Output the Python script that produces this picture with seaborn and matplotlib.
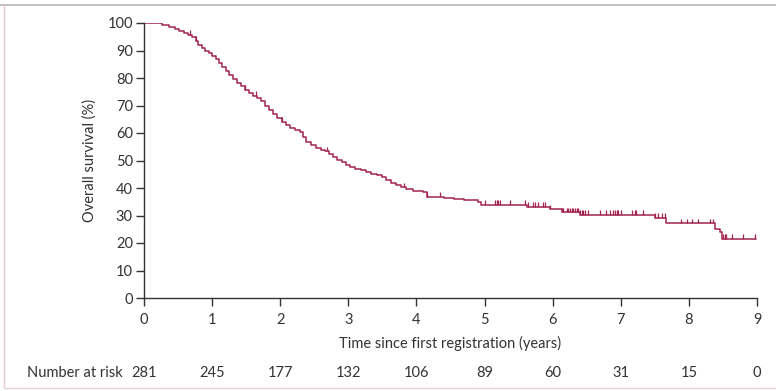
import numpy as np
import pandas as pd
import matplotlib
matplotlib.use("Agg")
import matplotlib.pyplot as plt
from matplotlib.lines import Line2D
import seaborn as sns

# Kaplan-Meier step points (years, % surviving)
step_times = [0.00, 0.26, 0.37, 0.45, 0.52, 0.58, 0.64, 0.70, 0.76, 0.80,
              0.85, 0.90, 0.95, 1.00, 1.05, 1.10, 1.15, 1.20, 1.25, 1.30,
              1.36, 1.42, 1.48, 1.54, 1.60, 1.66, 1.72, 1.78, 1.84, 1.90,
              1.96, 2.02, 2.08, 2.15, 2.22, 2.29, 2.34, 2.38, 2.45, 2.52,
              2.60, 2.66, 2.72, 2.78, 2.84, 2.90, 2.96, 3.02, 3.10, 3.18,
              3.26, 3.34, 3.42, 3.50, 3.56, 3.62, 3.70, 3.78, 3.84, 3.95,
              4.10, 4.15, 4.40, 4.55, 4.70, 4.90, 4.95, 5.62, 5.96, 6.13,
              6.40, 7.50, 7.67, 8.38, 8.46, 8.48, 8.99]
step_surv = [100.0, 99.3, 98.6, 97.9, 97.1, 96.4, 95.7, 95.0, 93.6, 92.1,
             91.0, 90.0, 89.0, 88.0, 86.8, 85.4, 84.0, 82.5, 81.0, 79.5,
             78.2, 77.0, 75.7, 74.5, 73.6, 72.8, 71.5, 70.0, 68.5, 67.0,
             65.4, 64.0, 62.9, 62.0, 61.2, 60.3, 58.5, 56.9, 55.8, 54.6,
             54.0, 53.3, 52.3, 51.3, 50.3, 49.4, 48.4, 47.7, 47.0, 46.4,
             45.7, 45.2, 44.7, 44.0, 43.0, 42.0, 41.2, 40.2, 39.6, 39.0,
             38.6, 36.8, 36.5, 36.0, 35.6, 35.0, 34.0, 33.2, 32.2, 31.2,
             30.2, 29.2, 27.2, 25.2, 24.0, 21.5, 21.5]

# censored observations (years)
censor_times = [0.68, 0.77, 1.48, 1.65, 2.02, 2.68, 3.81, 4.15, 4.35,
                5.00, 5.16, 5.18, 5.20, 5.22, 5.37, 5.60, 5.64, 5.71, 5.74,
                5.79, 5.86, 5.89, 5.96, 6.13, 6.15, 6.21, 6.23, 6.25, 6.28,
                6.30, 6.33, 6.35, 6.37, 6.40, 6.43, 6.45, 6.48, 6.52, 6.70,
                6.79, 6.84, 6.89, 6.92, 6.94, 6.96, 7.01, 7.16, 7.21, 7.23,
                7.33, 7.50, 7.55, 7.60, 7.65, 7.89, 7.97, 8.04, 8.13, 8.31,
                8.36, 8.50, 8.53, 8.55, 8.63, 8.80, 8.97]

risk_years = [0, 1, 2, 3, 4, 5, 6, 7, 8, 9]
number_at_risk = [281, 245, 177, 132, 106, 89, 60, 31, 15, 0]

km = pd.DataFrame({"time": step_times, "survival": step_surv})
# survival level at each censor time, looked up on the step function
idx = np.searchsorted(step_times, censor_times, side="right") - 1
censor_surv = np.array(step_surv)[idx]

line_color = "#a3234c"

sns.set_theme(style="ticks")
plt.rcParams["font.family"] = ["Lato", "DejaVu Sans"]

fig = plt.figure(figsize=(7.76, 3.91), dpi=100)
ax = fig.add_axes([144 / 776, 1 - 298 / 391, 613 / 776, 275 / 391])

sns.lineplot(data=km, x="time", y="survival", drawstyle="steps-post",
             color=line_color, linewidth=1.1, ax=ax)
ax.vlines(censor_times, censor_surv, censor_surv + 1.7, color=line_color,
          linewidth=0.9)

ax.set_xlim(0, 9)
ax.set_ylim(0, 100)
ax.set_xticks(risk_years)
ax.set_yticks(range(0, 101, 10))
ax.tick_params(axis="both", direction="out", length=6, width=1,
               color="#333333", labelsize=10.5, labelcolor="#333333")
ax.tick_params(axis="x", pad=5)
ax.tick_params(axis="y", pad=2)
for s in ["left", "bottom"]:
    ax.spines[s].set_color("#333333")
    ax.spines[s].set_linewidth(1)
sns.despine(ax=ax)

ax.set_xlabel("Time since first registration (years)", fontsize=10.5,
              color="#333333", labelpad=6)
ax.set_ylabel("Overall survival (%)", fontsize=10.5, color="#333333",
              labelpad=8)

# number at risk row
fig.text(27 / 776, 1 - 373 / 391, "Number at risk", fontsize=10.5,
         color="#333333", va="center", ha="left")
for yr, n in zip(risk_years, number_at_risk):
    ax.annotate(str(n), xy=(yr, 1 - 373 / 391), xycoords=("data", "figure fraction"),
                ha="center", va="center", fontsize=10.5, color="#333333",
                annotation_clip=False)

# faint frame around the panel
fig.add_artist(Line2D([0, 1], [1 - 5 / 391] * 2, transform=fig.transFigure,
                      color="#b8b8b8", linewidth=1.2))
fig.add_artist(Line2D([4 / 776] * 2, [1 - 5 / 391, 3 / 391],
                      transform=fig.transFigure, color="#e6c6cf", linewidth=1))
fig.add_artist(Line2D([4 / 776, 1], [3 / 391] * 2, transform=fig.transFigure,
                      color="#e6d6dc", linewidth=1))

fig.savefig("out.png", dpi=100)
